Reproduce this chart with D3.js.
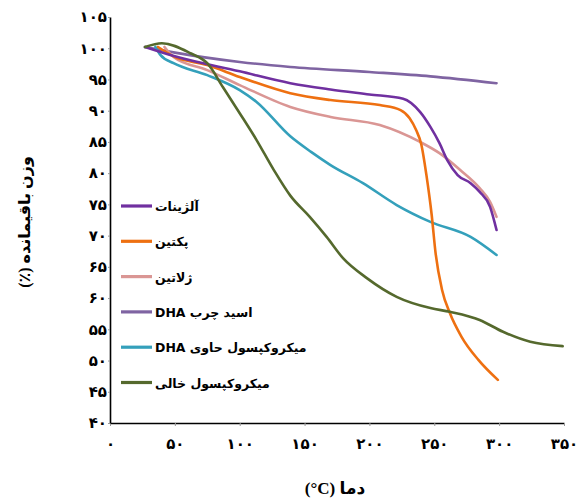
<!DOCTYPE html>
<html>
<head>
<meta charset="utf-8">
<script src="https://cdn.jsdelivr.net/npm/d3@7"></script>
<style>
  body { margin: 0; background: #fff; }
  text { font-family: "Liberation Serif", "DejaVu Sans", serif; font-weight: bold; }
</style>
</head>
<body>
<div class="chart"></div>
<script>
// series names (legend order) and colours
var seriesNames = ["آلژینات", "پکتین", "ژلاتین", "اسید چرب  DHA", "میکروکپسول حاوی DHA", "میکروکپسول خالی"];
var seriesColors = ["#7030a0", "#ee7011", "#da9694", "#7f64a2", "#34a0bb", "#55692d"];

// temperature (°C) and remaining weight (%)
var alginateT = [27, 50, 100, 139, 170, 200, 226, 239, 247, 254, 260, 268, 278, 285, 293, 298];
var alginateW = [100.2, 98.7, 96.3, 94.4, 93.4, 92.6, 91.9, 89.8, 87.4, 84.8, 82.1, 79.7, 78.4, 77.0, 74.6, 70.9];

var pectinT = [37, 49, 75, 100, 139, 170, 208, 224, 231, 236, 240, 244, 248, 251, 256, 262, 271, 284, 299];
var pectinW = [100.2, 98.7, 97.3, 95.4, 92.8, 91.7, 90.9, 90.1, 88.8, 86.9, 84.6, 79.6, 73.3, 67.2, 61.3, 57.6, 53.8, 50.1, 46.9];

var gelatinT = [42, 49, 75, 100, 139, 170, 208, 239, 254, 270, 285, 293, 298];
var gelatinW = [100.2, 98.6, 96.5, 94.1, 90.6, 89.0, 87.7, 85.0, 83.2, 80.5, 77.6, 75.4, 73.0];

var dhaOilT = [27, 50, 100, 139, 200, 247, 298];
var dhaOilW = [100.2, 99.3, 97.8, 97.0, 96.2, 95.5, 94.4];

var dhaCapsT = [35, 39, 49, 75, 100, 113, 139, 155, 170, 195, 221, 247, 278, 298];
var dhaCapsW = [100.2, 98.9, 97.6, 95.7, 93.3, 91.4, 85.9, 83.4, 81.3, 78.4, 74.9, 72.2, 69.8, 66.9];

var emptyCapsT = [27, 40, 62, 75, 87, 100, 113, 126, 139, 154, 167, 180, 198, 221, 247, 262, 285, 303, 324, 349];
var emptyCapsW = [100.2, 100.8, 99.2, 97.6, 93.8, 89.6, 85.3, 80.6, 76.4, 73.0, 69.8, 66.3, 63.2, 60.2, 58.4, 57.8, 56.5, 54.6, 53.0, 52.3];

var xTicks = [0, 50, 100, 150, 200, 250, 300, 350];
var yTicks = [40, 45, 50, 55, 60, 65, 70, 75, 80, 85, 90, 95, 100, 105];

var xTitle = "دما \u200E(°C)\u200E";
var yTitle = "وزن باقیمانده (٪)";

var faDigits = "۰۱۲۳۴۵۶۷۸۹";
function toFa(n) {
    return String(n).replace(/[0-9]/g, function (c) { return faDigits[+c]; });
}

var seriesT = [alginateT, pectinT, gelatinT, dhaOilT, dhaCapsT, emptyCapsT];
var seriesW = [alginateW, pectinW, gelatinW, dhaOilW, dhaCapsW, emptyCapsW];

var width = 581, height = 500;
var svg = d3.select(".chart").append("svg")
        .attr("width", width)
        .attr("height", height);

var x = d3.scaleLinear().domain([0, 350]).range([110, 564]);
var y = d3.scaleLinear().domain([40, 105]).range([423, 17]);

// axes
var xAxis = svg.append("g")
        .attr("transform", "translate(0,423)")
        .call(d3.axisBottom(x).tickValues(xTicks).tickFormat(toFa)
              .tickSize(3).tickSizeOuter(0).tickPadding(12));
var yAxis = svg.append("g")
        .attr("transform", "translate(110,0)")
        .call(d3.axisLeft(y).tickValues(yTicks).tickFormat(toFa)
              .tickSize(2).tickSizeOuter(0).tickPadding(1));

[xAxis, yAxis].forEach(function (g) {
    g.select(".domain").attr("stroke", "#000").attr("stroke-width", 1.6);
    g.selectAll(".tick line").attr("stroke", "#999");
    g.selectAll(".tick text")
            .attr("fill", "#000")
            .style("font-size", "15px")
            .style("font-family", "'DejaVu Sans', sans-serif");
});

// lines
var line = d3.line()
        .x(function (d) { return x(d[0]); })
        .y(function (d) { return y(d[1]); })
        .curve(d3.curveMonotoneX);

// draw in an order close to the picture's layering
var drawOrder = [3, 4, 2, 1, 0, 5];
drawOrder.forEach(function (i) {
    var pts = seriesT[i].map(function (t, j) { return [t, seriesW[i][j]]; });
    svg.append("path")
            .attr("d", line(pts))
            .attr("fill", "none")
            .attr("stroke", seriesColors[i])
            .attr("stroke-width", 2.6)
            .attr("stroke-linecap", "round");
});

// legend
var legend = svg.selectAll(".legend")
        .data(seriesNames)
        .enter()
        .append("g")
        .attr("transform", function (d, i) {
            return "translate(0," + (206 + i * 35.3) + ")";
        });
legend.append("line")
        .attr("x1", 121).attr("x2", 152)
        .attr("stroke", function (d, i) { return seriesColors[i]; })
        .attr("stroke-width", 3.2);
legend.append("text")
        .attr("x", 155)
        .attr("y", 5)
        .attr("direction", "rtl")
        .attr("text-anchor", "end")
        .style("font-size", "12.5px")
        .style("font-family", "'DejaVu Sans', sans-serif")
        .text(function (d) { return d; });

// titles
svg.append("text")
        .attr("x", 335)
        .attr("y", 494)
        .attr("direction", "rtl")
        .attr("text-anchor", "middle")
        .style("font-size", "17px")
        .text(xTitle);

svg.append("text")
        .attr("transform", "translate(30,222) rotate(-90)")
        .attr("direction", "rtl")
        .attr("text-anchor", "middle")
        .style("font-size", "16px")
        .text(yTitle);
</script>
</body>
</html>
